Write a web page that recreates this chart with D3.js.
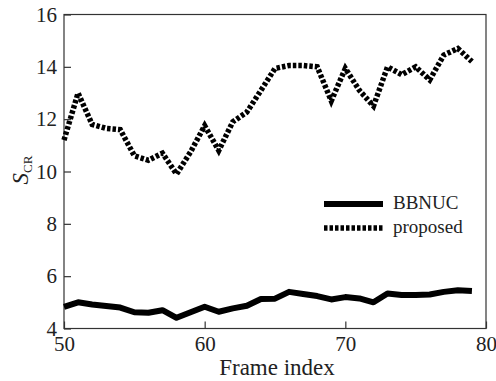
<!DOCTYPE html>
<html>
<head>
<meta charset="utf-8">
<script src="https://cdn.jsdelivr.net/npm/d3@7/dist/d3.min.js"></script>
<style>
  html, body { margin: 0; padding: 0; background: #fff; }
  svg text { font-family: "Liberation Serif", "DejaVu Serif", serif; fill: #222; }
</style>
</head>
<body>
<svg id="chart" width="496" height="381"></svg>
<script>
// Frame indices and per-frame S_CR values for the two methods
const frames = d3.range(50, 80);
const bbnuc = [4.83, 5.0, 4.92, 4.86, 4.8, 4.62, 4.6, 4.7, 4.41, 4.62,
               4.83, 4.64, 4.77, 4.87, 5.13, 5.14, 5.4, 5.32, 5.24, 5.11,
               5.2, 5.15, 5.0, 5.34, 5.28, 5.28, 5.3, 5.4, 5.46, 5.43];
const proposed = [11.2, 13.0, 11.8, 11.65, 11.6, 10.6, 10.43, 10.7, 9.9, 10.75,
                  11.75, 10.8, 11.9, 12.27, 13.1, 13.94, 14.05, 14.05, 14.0, 12.7,
                  13.94, 13.1, 12.5, 14.0, 13.7, 14.0, 13.5, 14.45, 14.7, 14.2];
const xTicks = [50, 60, 70, 80];
const yTicks = [4, 6, 8, 10, 12, 14, 16];
const seriesNames = ["BBNUC", "proposed"];

const svg = d3.select("#chart");
const plotLeft = 64, plotRight = 486, plotTop = 14.5, plotBottom = 328.5;

const x = d3.scaleLinear().domain([50, 80]).range([plotLeft, plotRight]);
const y = d3.scaleLinear().domain([4, 16]).range([plotBottom, plotTop]);

// plot frame
svg.append("rect")
  .attr("x", plotLeft).attr("y", plotTop)
  .attr("width", plotRight - plotLeft).attr("height", plotBottom - plotTop)
  .attr("fill", "none").attr("stroke", "#333").attr("stroke-width", 1.2);

// axes with inward ticks
const xAxis = d3.axisBottom(x).tickValues(xTicks).tickSizeInner(-7).tickSizeOuter(0).tickPadding(8);
const gx = svg.append("g").attr("transform", `translate(0,${plotBottom})`).call(xAxis);
gx.select(".domain").remove();
gx.selectAll("line").attr("stroke", "#333").attr("stroke-width", 1.2);
gx.selectAll("text").attr("font-size", 21).attr("font-family", null).attr("fill", "#222");

const yAxis = d3.axisLeft(y).tickValues(yTicks).tickSizeInner(-7).tickSizeOuter(0).tickPadding(7);
const gy = svg.append("g").attr("transform", `translate(${plotLeft},0)`).call(yAxis);
gy.select(".domain").remove();
gy.selectAll("line").attr("stroke", "#333").attr("stroke-width", 1.2);
gy.selectAll("text").attr("font-size", 21).attr("font-family", null).attr("fill", "#222");

// axis titles
svg.append("text")
  .attr("x", (plotLeft + plotRight) / 2 + 2).attr("y", 375)
  .attr("text-anchor", "middle").attr("font-size", 23)
  .text("Frame index");

const yt = svg.append("text")
  .attr("transform", `translate(28,${170}) rotate(-90)`)
  .attr("text-anchor", "middle").attr("font-size", 23);
yt.append("tspan").attr("font-style", "italic").text("S");
yt.append("tspan").attr("font-size", 13).attr("dy", 4).text("CR");

// series lines
const line = d3.line().x((d, i) => x(frames[i])).y(d => y(d));

svg.append("path").datum(bbnuc)
  .attr("d", line).attr("fill", "none")
  .attr("stroke", "#000").attr("stroke-width", 6)
  .attr("stroke-linejoin", "round");

svg.append("path").datum(proposed)
  .attr("d", line).attr("fill", "none")
  .attr("stroke", "#000").attr("stroke-width", 5.5)
  .attr("stroke-dasharray", "3.5,2");

// legend
const legend = svg.append("g");
const styles = [{ w: 6, dash: null }, { w: 5.5, dash: "3.5,2" }];
seriesNames.forEach((name, i) => {
  const ly = 204 + i * 24;
  legend.append("line")
    .attr("x1", 324).attr("x2", 383).attr("y1", ly).attr("y2", ly)
    .attr("stroke", "#000").attr("stroke-width", styles[i].w)
    .attr("stroke-dasharray", styles[i].dash);
  legend.append("text")
    .attr("x", 393).attr("y", ly + 5).attr("font-size", 19)
    .text(name);
});
</script>
</body>
</html>
